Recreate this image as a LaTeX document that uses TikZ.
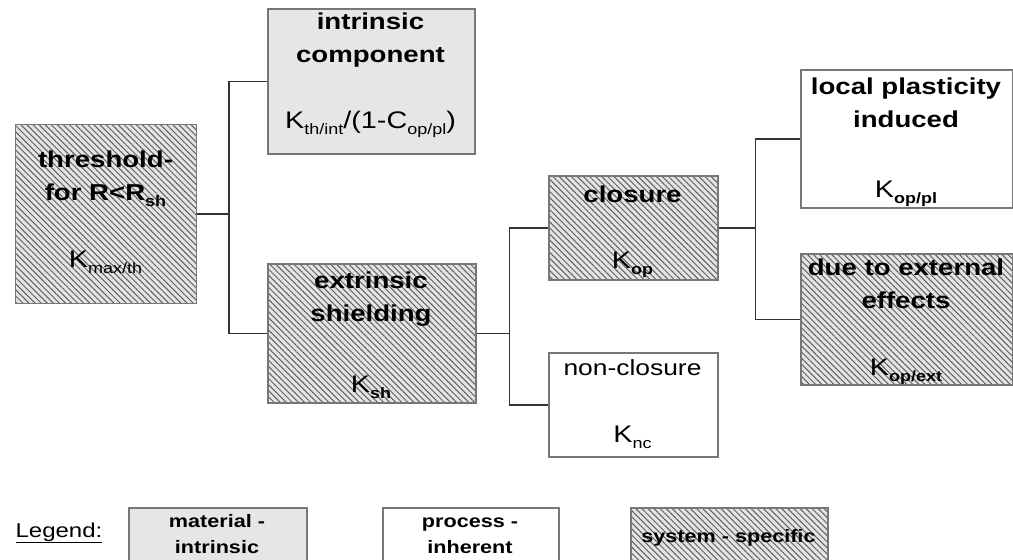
\documentclass[tikz,border=0pt]{standalone}
\usepackage{fontspec}
\setmainfont{Liberation Sans}
\newfontfamily\wfont[FakeStretch=1.2]{Liberation Sans}
\usetikzlibrary{patterns.meta,positioning}
\definecolor{cMat}  {HTML}{E6E6E6}
\definecolor{cSysBg}{HTML}{E4E4E4}
\definecolor{cSysLn}{HTML}{606060}
\definecolor{cEdge} {HTML}{777777}
\definecolor{cLine} {HTML}{333333}
\newcommand{\ksub}[1]{\raisebox{-6pt}{\fontsize{15}{15}\selectfont #1}}

\begin{document}
\begin{tikzpicture}[
  x=1pt, y=-1pt, font=\wfont,
  box/.style={draw=cEdge, line width=1.5pt, inner sep=0pt, anchor=north west},
  mat/.style={box, fill=cMat},
  proc/.style={box, fill=white},
  sys/.style={box, preaction={fill=cSysBg},
              pattern={Lines[angle=-45,distance=4.3pt,line width=1pt]},
              pattern color=cSysLn},
  ttl/.style={anchor=base, align=center, inner sep=0pt,
              font=\wfont\bfseries\fontsize{23}{33}\selectfont},
  kv/.style={anchor=base, inner sep=0pt, font=\wfont\fontsize{24}{28}\selectfont},
  leg/.style={anchor=base, align=center, inner sep=0pt,
              font=\wfont\bfseries\fontsize{18}{26}\selectfont},
  cn/.style={draw=cLine, line width=1.5pt},
]
\fill[white, use as bounding box] (0,0) rectangle (1013,560);
\clip (0,0) rectangle (1013,560);

% ---------------------------------------------------------------- boxes
\node[sys, minimum width=181pt, minimum height=179pt] at (15,124) (thr) {};
\node[mat, minimum width=207pt, minimum height=145pt] at (267,8) (intr) {};
\node[sys, minimum width=208pt, minimum height=139pt] at (267,263) (extr) {};
\node[sys, minimum width=169pt, minimum height=104pt] at (548,175) (clos) {};
\node[proc, minimum width=169pt, minimum height=104pt] at (548,352) (ncl) {};
\node[proc, minimum width=212pt, minimum height=138pt] at (800,69) (lpl) {};
\node[sys, minimum width=212pt, minimum height=131pt] at (800,253) (ext) {};

% ---------------------------------------------------------------- texts (base = last line)
\node[ttl] at (105.5,200) (thrT) {threshold-\\for R<R\ksub{sh}};
\node[kv]  at (105.5,267) (thrK) {K\ksub{max/th}};
\node[ttl] at (370.5,62) (intrT) {intrinsic\\component};
\node[kv]  at (370.5,128) (intrK) {K\ksub{th/int}/(1-C\ksub{op/pl})};
\node[ttl] at (371,321) (extrT) {extrinsic\\shielding};
\node[kv]  at (371,392) (extrK) {K\ksub{\bfseries sh}};
\node[ttl] at (632.5,202) (closT) {closure};
\node[kv]  at (632.5,268) (closK) {K\ksub{\bfseries op}};
\node[ttl, font=\wfont\fontsize{22}{33}\selectfont] at (632.5,375) (nclT) {non-closure};
\node[kv]  at (632.5,442) (nclK) {K\ksub{nc}};
\node[ttl] at (906,127) (lplT) {local plasticity\\induced};
\node[kv]  at (906,197) (lplK) {K\ksub{\bfseries op/pl}};
\node[ttl] at (906,308) (extT) {due to external\\effects};
\node[kv]  at (906,375) (extK) {K\ksub{\bfseries op/ext}};

% ---------------------------------------------------------------- connectors
\draw[cn] (thr.east) -- ++(32,0) |- (intr.west);
\draw[cn] (thr.east) -- ++(32,0) |- (extr.west);
\draw[cn] (extr.east) -- ++(33,0) |- (clos.west);
\draw[cn] (extr.east) -- ++(33,0) |- (ncl.west);
\draw[cn] (clos.east) -- ++(37,0) |- (lpl.west);
\draw[cn] (clos.east) -- ++(37,0) |- (ext.west);

% ---------------------------------------------------------------- legend
\node[anchor=base, inner sep=0pt, font=\wfont\fontsize{20}{24}\selectfont]
  at (59,537) (legT) {\underline{Legend:}};
\node[mat, minimum width=178pt, minimum height=70pt] at (128,507) (lMat) {};
\node[proc, minimum width=176pt, minimum height=70pt] at (382,507) (lProc) {};
\node[sys, minimum width=197pt, minimum height=70pt] at (630,507) (lSys) {};
\node[leg] at (217,553) (lMatT) {material -\\intrinsic};
\node[leg] at (470,553) (lProcT) {process -\\inherent};
\node[leg] at (728.5,542) (lSysT) {system - specific};
\end{tikzpicture}
\end{document}
